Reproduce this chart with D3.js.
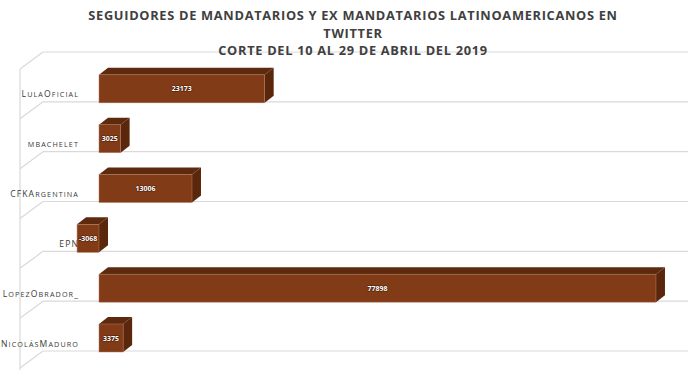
<!DOCTYPE html>
<html>
<head>
<meta charset="utf-8">
<script src="https://cdn.jsdelivr.net/npm/d3@7"></script>
<style>
  body { margin: 0; background: #fff; }
  svg { display: block; }
</style>
</head>
<body>
<div id="chart"></div>
<script>
// data
const titleLines = [
  "SEGUIDORES DE MANDATARIOS Y EX MANDATARIOS LATINOAMERICANOS EN",
  "TWITTER",
  "CORTE DEL 10 AL 29 DE ABRIL DEL 2019"
];
const cuentas = ["LulaOficial", "mbachelet", "CFKArgentina", "EPN", "LopezObrador_", "NicolásMaduro"];
const seguidores = [23173, 3025, 13006, -3068, 77898, 3375];

const width = 700, height = 370;
const depthX = 9, depthY = 7;   // 3d offset of the bars
const barH = 28;

const svg = d3.select("#chart").append("svg")
  .attr("width", width)
  .attr("height", height);

const x = d3.scaleLinear()
  .domain([0, 80000])
  .range([99, 671]);

const y = d3.scaleBand()
  .domain(cuentas)
  .range([52, 351])
  .paddingInner(0)
  .paddingOuter(0);

// floor / wall lines
const bounds = cuentas.map(c => y(c)).concat([y.range()[1]]);
const grid = svg.append("g").style("stroke", "#d9d9d9").style("stroke-width", 1.2).style("fill", "none");
grid.selectAll("line.h")
  .data(bounds)
  .enter().append("line")
  .attr("class", "h")
  .attr("x1", 43).attr("x2", 688)
  .attr("y1", d => d).attr("y2", d => d);
grid.selectAll("line.d")
  .data(bounds)
  .enter().append("line")
  .attr("class", "d")
  .attr("x1", 43).attr("x2", 20)
  .attr("y1", d => d).attr("y2", d => d + 17);
grid.append("line")
  .attr("x1", 20).attr("x2", 20)
  .attr("y1", bounds[0] + 17).attr("y2", height);

// title
svg.append("g").selectAll("text")
  .data(titleLines)
  .enter().append("text")
  .attr("x", 353)
  .attr("y", (d, i) => 20 + i * 17.5)
  .attr("text-anchor", "middle")
  .style("font-family", "'Open Sans', sans-serif")
  .style("font-weight", "bold")
  .style("font-size", "12.8px")
  .style("letter-spacing", "0.7px")
  .style("fill", "#404040")
  .text(d => d);

// category labels, small caps done by hand
const labels = svg.append("g").selectAll("text")
  .data(cuentas)
  .enter().append("text")
  .attr("x", 79)
  .attr("y", d => y(d) + y.bandwidth() - 4.5)
  .attr("text-anchor", "end")
  .style("font-family", "'Open Sans', sans-serif")
  .style("letter-spacing", "1.1px")
  .style("fill", "#3a3a3a");
labels.selectAll("tspan")
  .data(d => d.split(""))
  .enter().append("tspan")
  .style("font-size", ch => (ch !== ch.toLowerCase() || ch === "_") ? "8.6px" : "7.2px")
  .text(ch => ch.toUpperCase());

// bars
const bars = svg.append("g").selectAll("g")
  .data(cuentas.map((c, i) => ({ name: c, value: seguidores[i] })))
  .enter().append("g");

function geo(d) {
  const x0 = Math.min(x(0), x(d.value)), x1 = Math.max(x(0), x(d.value));
  const yb = y(d.name) + y.bandwidth() + 1;
  return { x0, x1, yb, yt: yb - barH };
}

// top face
bars.append("path")
  .attr("d", d => {
    const g = geo(d);
    return `M${g.x0},${g.yt}L${g.x0 + depthX},${g.yt - depthY}L${g.x1 + depthX},${g.yt - depthY}L${g.x1},${g.yt}Z`;
  })
  .style("fill", "#5e2a0e");

// side face
bars.append("path")
  .attr("d", d => {
    const g = geo(d);
    return `M${g.x1},${g.yt}L${g.x1 + depthX},${g.yt - depthY}L${g.x1 + depthX},${g.yb - depthY}L${g.x1},${g.yb}Z`;
  })
  .style("fill", "#5a270c");

// front face
bars.append("rect")
  .attr("x", d => geo(d).x0)
  .attr("y", d => geo(d).yt)
  .attr("width", d => geo(d).x1 - geo(d).x0)
  .attr("height", barH)
  .style("fill", "#823b17")
  .style("stroke", "#b07860")
  .style("stroke-width", 0.5);

// value labels
bars.append("text")
  .attr("x", d => (geo(d).x0 + geo(d).x1) / 2)
  .attr("y", d => geo(d).yt + barH / 2 + 2.5)
  .attr("text-anchor", "middle")
  .style("font-family", "'Open Sans', sans-serif")
  .style("font-weight", "bold")
  .style("font-size", "7px")
  .style("fill", "#fff")
  .style("paint-order", "stroke")
  .style("stroke", "#4a1e08")
  .style("stroke-width", 1.2)
  .text(d => String(d.value));
</script>
</body>
</html>
